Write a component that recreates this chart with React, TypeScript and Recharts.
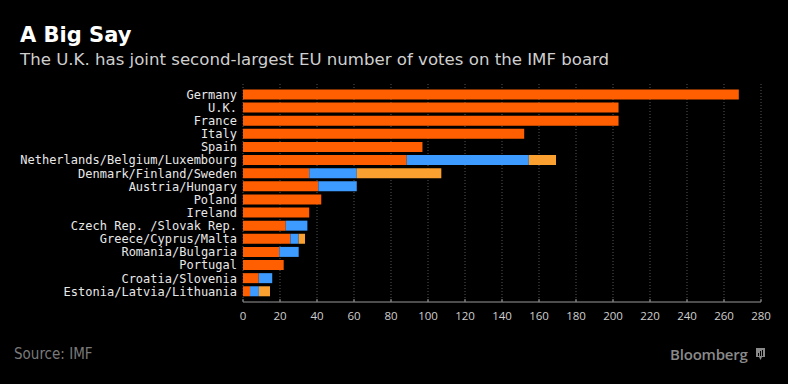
import React from "react";
import { BarChart, Bar, XAxis, YAxis, CartesianGrid } from "recharts";

// ---- data (IMF board votes by constituency group) ----

const COUNTRIES = [
  "Germany",
  "U.K.",
  "France",
  "Italy",
  "Spain",
  "Netherlands/Belgium/Luxembourg",
  "Denmark/Finland/Sweden",
  "Austria/Hungary",
  "Poland",
  "Ireland",
  "Czech Rep. /Slovak Rep.",
  "Greece/Cyprus/Malta",
  "Romania/Bulgaria",
  "Portugal",
  "Croatia/Slovenia",
  "Estonia/Latvia/Lithuania",
];

const FIRST = [268, 203, 203, 152, 97, 88.5, 35.8, 40.7, 42.3, 35.8, 23.1, 25.6, 19.6, 22, 8.5, 3.8];
const SECOND = [0, 0, 0, 0, 0, 66, 25.7, 20.8, 0, 0, 11.7, 4.5, 10.5, 0, 7.3, 4.8];
const THIRD = [0, 0, 0, 0, 0, 14.7, 45.7, 0, 0, 0, 0, 3.4, 0, 0, 0, 6];

const X_TICKS = [0, 20, 40, 60, 80, 100, 120, 140, 160, 180, 200, 220, 240, 260, 280];

const ORANGE = "#ff5f00";
const BLUE = "#3d9bff";
const LIGHT = "#f9a030";

const data = COUNTRIES.map((name, i) => ({
  name,
  first: FIRST[i],
  second: SECOND[i],
  third: THIRD[i],
}));

export default function App() {
  return (
    <div
      style={{
        position: "fixed",
        top: 0,
        left: 0,
        width: 788,
        height: 384,
        background: "#000",
        overflow: "hidden",
      }}
    >
      <div
        style={{
          position: "absolute",
          left: 20,
          top: 22,
          color: "#fff",
          fontFamily: "DejaVu Sans",
          fontWeight: "bold",
          fontSize: 21,
          lineHeight: "26px",
        }}
      >
        A Big Say
      </div>
      <div
        style={{
          position: "absolute",
          left: 20,
          top: 49,
          color: "#cfcfcf",
          fontFamily: "DejaVu Sans",
          fontSize: 16.6,
          lineHeight: "22px",
          whiteSpace: "nowrap",
        }}
      >
        The U.K. has joint second-largest EU number of votes on the IMF board
      </div>

      <div style={{ position: "absolute", left: 0, top: 0 }}>
        <BarChart
          width={788}
          height={384}
          data={data}
          layout="vertical"
          barCategoryGap={1.4}
          margin={{ top: 84, right: 27, bottom: 52, left: 0 }}
        >
          <CartesianGrid horizontal={false} stroke="#555" strokeDasharray="1 2" />
          <XAxis
            type="number"
            domain={[0, 280]}
            ticks={X_TICKS}
            interval={0}
            height={30}
            stroke="#999"
            tickSize={-3}
            tickMargin={13}
            tick={{ fill: "#cfcfcf", fontSize: 11.5, fontFamily: "Open Sans" }}
          />
          <YAxis
            type="category"
            dataKey="name"
            width={243}
            axisLine={false}
            tickLine={false}
            tickSize={0}
            tickMargin={6}
            interval={0}
            padding={{ top: 4, bottom: 4 }}
            tick={{ fill: "#e8e8e8", fontSize: 12, fontFamily: "DejaVu Sans Mono" }}
          />
          <Bar dataKey="first" stackId="a" fill={ORANGE} isAnimationActive={false} />
          <Bar dataKey="second" stackId="a" fill={BLUE} isAnimationActive={false} />
          <Bar dataKey="third" stackId="a" fill={LIGHT} isAnimationActive={false} />
        </BarChart>
      </div>

      <div
        style={{
          position: "absolute",
          left: 14,
          top: 345,
          color: "#7a7a7a",
          fontFamily: "Liberation Sans Narrow, DejaVu Sans Condensed, sans-serif",
          fontSize: 15,
          lineHeight: "18px",
        }}
      >
        Source: IMF
      </div>
      <div
        style={{
          position: "absolute",
          left: 670,
          top: 344,
          color: "#8a8a8a",
          fontFamily: "Open Sans",
          fontWeight: 600,
          fontSize: 15,
          lineHeight: "20px",
          letterSpacing: -0.2,
        }}
      >
        Bloomberg
      </div>
      <svg style={{ position: "absolute", left: 755, top: 347 }} width={11} height={14}>
        <path d="M1 1 H10 V10 H7 L5.5 13 L4 10 H1 Z" fill="#8a8a8a" />
        <rect x={3} y={6} width={1} height={3} fill="#000" />
        <rect x={5} y={4} width={1} height={5} fill="#000" />
        <rect x={7} y={3} width={1} height={6} fill="#000" />
      </svg>
    </div>
  );
}
